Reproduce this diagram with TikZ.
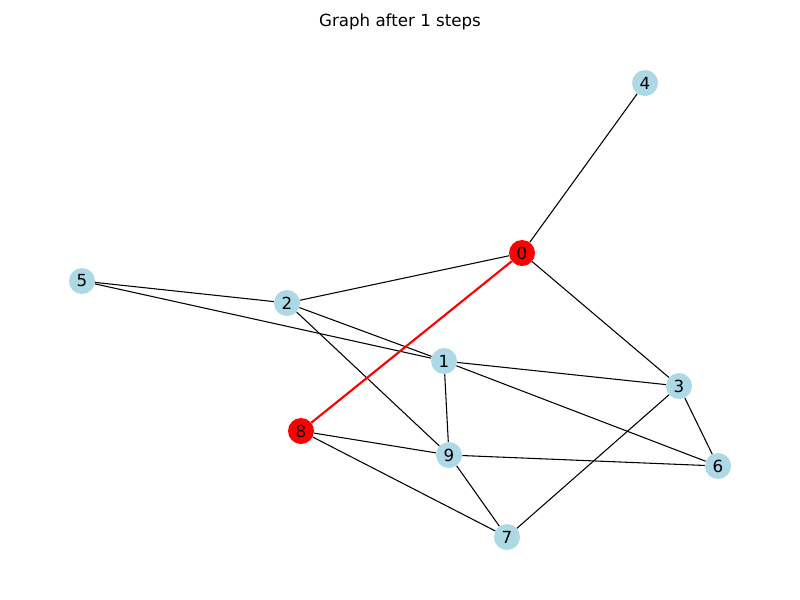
\documentclass[tikz,border=0pt]{standalone}
\usepackage{fontspec}
\setmainfont{DejaVu Sans}
\tikzset{
  vtx/.style={circle, fill={rgb, 255:red, 173; green, 216; blue, 230}, minimum size=19.5pt, inner sep=0pt, font=\fontsize{12.5}{15}\selectfont},
  hot/.style={vtx, fill={rgb, 255:red, 255; green, 0; blue, 0}},
  edg/.style={line width=0.8pt, draw=black},
  hotedg/.style={line width=1.6pt, draw={rgb, 255:red, 255; green, 0; blue, 0}}
}

\begin{document}
\begin{tikzpicture}[x=0.75pt,y=0.75pt,yscale=-1,xscale=1]
\useasboundingbox (0,0) rectangle (800,600);

% Title
\node (title) at (400,22) {\fontsize{12.5}{15}\selectfont Graph after 1 steps};

% Nodes
\node [hot] (n0) at (522,253) {0};
\node [vtx] (n1) at (444,361) {1};
\node [vtx] (n2) at (287,303) {2};
\node [vtx] (n3) at (679,386) {3};
\node [vtx] (n4) at (645,83) {4};
\node [vtx] (n5) at (82,281) {5};
\node [vtx] (n6) at (718,466) {6};
\node [vtx] (n7) at (507,537) {7};
\node [hot] (n8) at (301,431) {8};
\node [vtx] (n9) at (449,455) {9};

% Edges
\draw [edg] (n0) -- (n4);
\draw [edg] (n0) -- (n2);
\draw [edg] (n0) -- (n3);
\draw [edg] (n5) -- (n2);
\draw [edg] (n5) -- (n1);
\draw [edg] (n2) -- (n1);
\draw [edg] (n2) -- (n9);
\draw [edg] (n1) -- (n3);
\draw [edg] (n1) -- (n9);
\draw [edg] (n1) -- (n6);
\draw [edg] (n3) -- (n6);
\draw [edg] (n3) -- (n7);
\draw [edg] (n8) -- (n9);
\draw [edg] (n8) -- (n7);
\draw [edg] (n9) -- (n6);
\draw [edg] (n9) -- (n7);
\draw [hotedg] (n0) -- (n8);

\end{tikzpicture}
\end{document}
